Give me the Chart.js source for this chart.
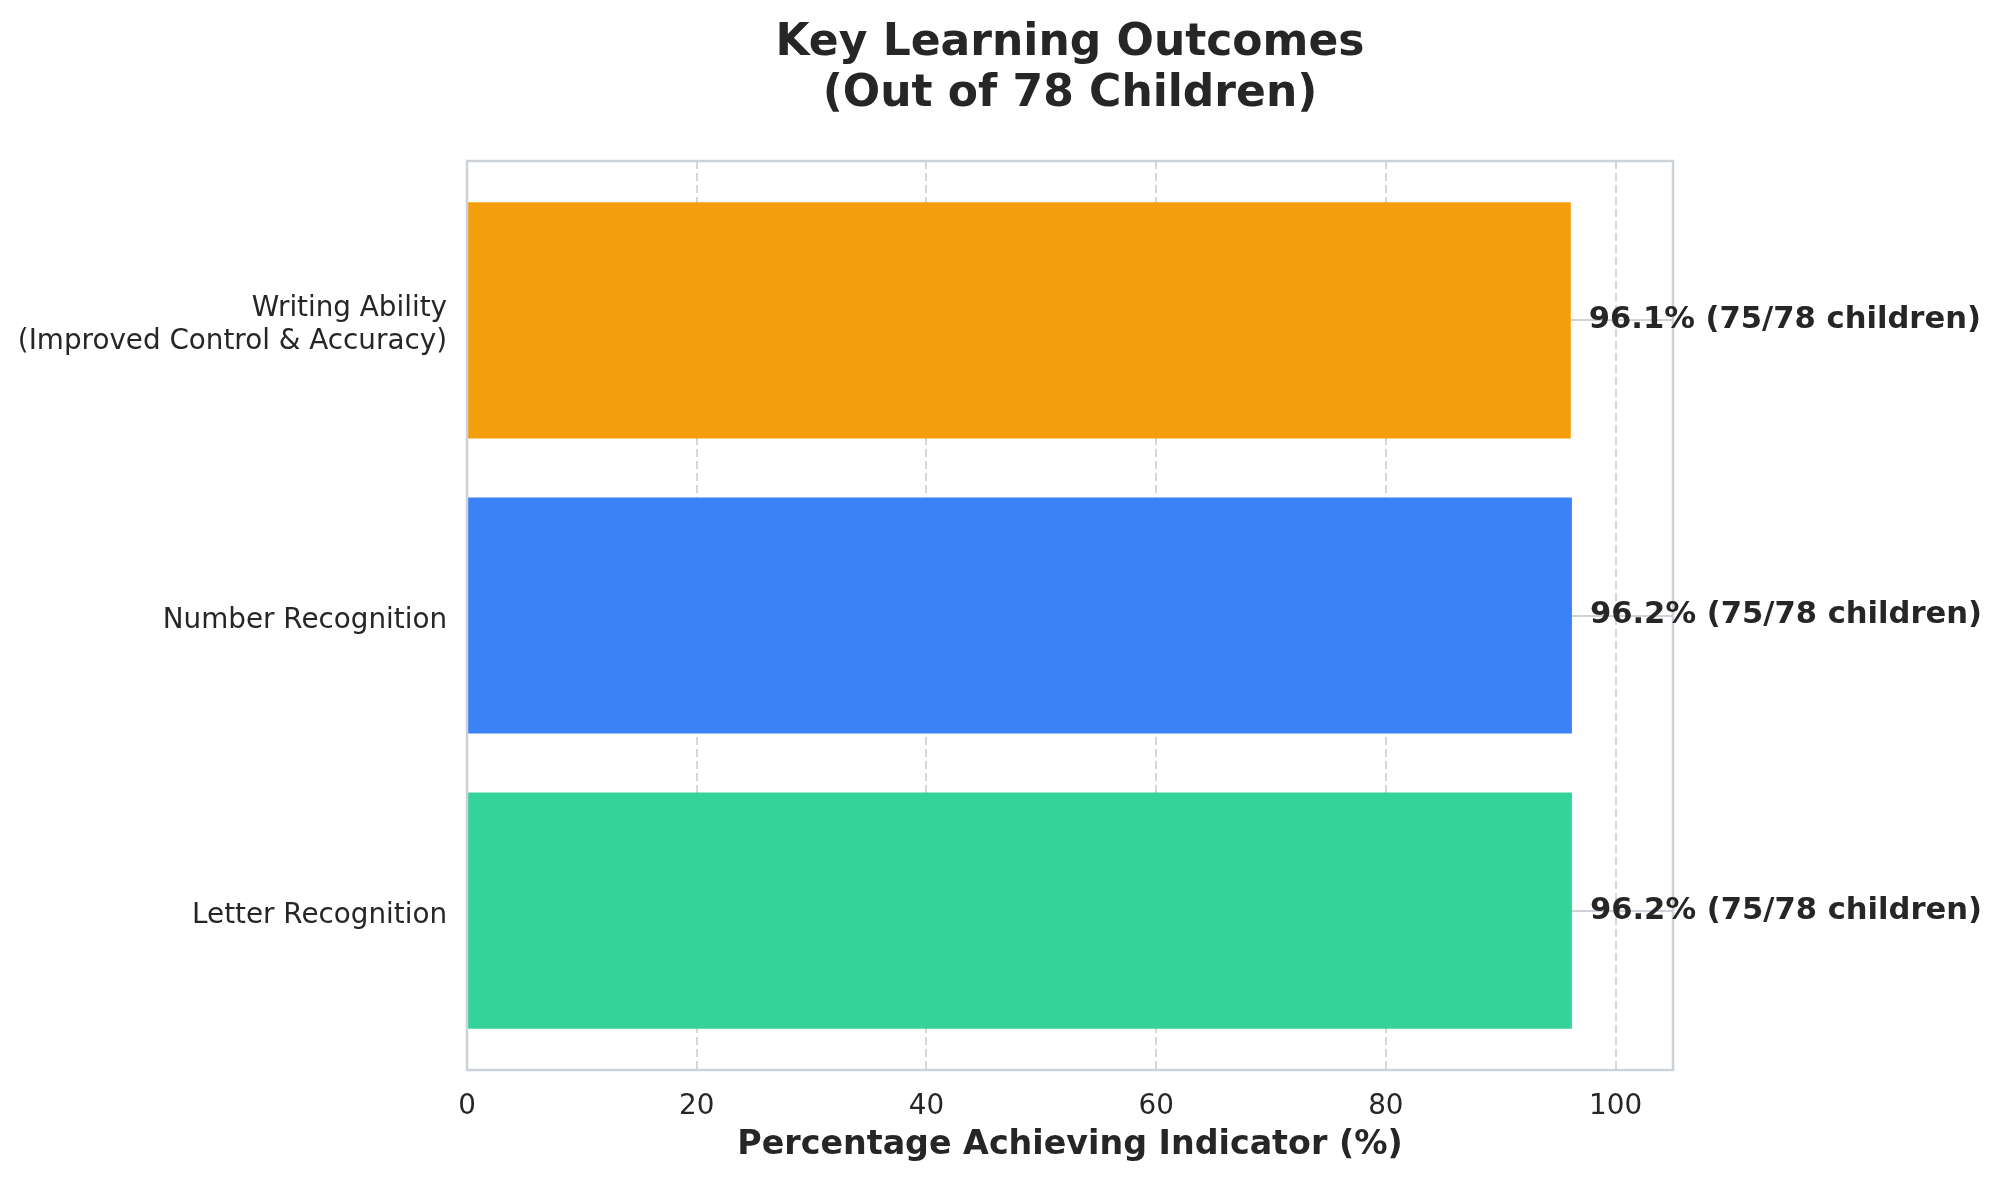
<!DOCTYPE html>
<html>
<head>
<meta charset="utf-8">
<script src="https://cdn.jsdelivr.net/npm/chart.js@4"></script>
<style>
  html, body { margin: 0; padding: 0; background: #fff; }
  canvas { display: block; }
</style>
</head>
<body>
<canvas id="chart" width="2000" height="1180"></canvas>
<script>
// outcomes, bottom to top as drawn
const outcomes = [
  "Letter Recognition",
  "Number Recognition",
  ["Writing Ability", "(Improved Control & Accuracy)"],
]
const percentages = [96.2, 96.2, 96.1]
const childCounts = [75, 75, 75]
const totalChildren = 78
const barColors = ["#34D399", "#3B82F6", "#F59E0B"]
const xTicks = [0, 20, 40, 60, 80, 100]

const titleLines = ["Key Learning Outcomes", "(Out of 78 Children)"]
const xTitle = "Percentage Achieving Indicator (%)"

const textColor = "#262626"
const spineColor = "#cdd2da"
const fontFamily = "'DejaVu Sans', sans-serif"

const points = percentages.map((p, i) => ({ x: p, y: i }))

const decorations = {
  id: "decorations",
  afterDatasetsDraw(chart) {
    const ctx = chart.ctx
    const area = chart.chartArea
    ctx.save()
    // spines all round
    ctx.strokeStyle = spineColor
    ctx.lineWidth = 2.5
    ctx.strokeRect(area.left, area.top, area.right - area.left, area.bottom - area.top)

    // value labels next to bars
    const meta = chart.getDatasetMeta(0)
    ctx.fillStyle = textColor
    ctx.font = "bold 30.6px " + fontFamily
    ctx.textAlign = "left"
    ctx.textBaseline = "middle"
    meta.data.forEach((bar, i) => {
      const label = percentages[i].toFixed(1) + "% (" + childCounts[i] + "/" + totalChildren + " children)"
      ctx.fillText(label, bar.x + 18, bar.y)
    })

    // title centred over the plot area
    ctx.font = "bold 44px " + fontFamily
    ctx.textAlign = "center"
    ctx.textBaseline = "alphabetic"
    const cx = (area.left + area.right) / 2
    ctx.fillText(titleLines[0], cx, 55)
    ctx.fillText(titleLines[1], cx, 106)
    ctx.restore()
  },
}

new Chart(document.getElementById("chart"), {
  type: "bar",
  data: {
    datasets: [
      {
        data: points,
        backgroundColor: barColors,
        borderWidth: 0,
        categoryPercentage: 1,
        barPercentage: 0.8,
      },
    ],
  },
  options: {
    indexAxis: "y",
    responsive: false,
    devicePixelRatio: 1,
    animation: false,
    layout: { padding: { top: 161, right: 327, bottom: 0, left: 0 } },
    plugins: {
      legend: { display: false },
      tooltip: { enabled: false },
    },
    scales: {
      x: {
        type: "linear",
        min: 0,
        max: 105,
        afterFit: (scale) => { scale.height = 110 },
        afterBuildTicks: (scale) => { scale.ticks = xTicks.map((v) => ({ value: v })) },
        border: { display: false, dash: [8, 4] },
        grid: {
          color: "#d6d6d6",
          lineWidth: 2,
          drawTicks: false,
        },
        ticks: {
          padding: 20,
          color: textColor,
          font: { family: fontFamily, size: 27.8 },
        },
        title: {
          display: true,
          text: xTitle,
          color: textColor,
          font: { family: fontFamily, size: 33.3, weight: "bold" },
          padding: { top: 0, bottom: 15 },
        },
      },
      y: {
        type: "linear",
        min: -0.54,
        max: 2.54,
        offset: false,
        afterFit: (scale) => { scale.width = 467 },
        afterBuildTicks: (scale) => { scale.ticks = outcomes.map((_, i) => ({ value: i })) },
        border: { display: false },
        grid: {
          color: spineColor,
          lineWidth: 2,
          drawTicks: false,
          offset: false,
        },
        ticks: {
          padding: 20,
          labelOffset: 5,
          color: textColor,
          font: { family: fontFamily, size: 27.8, lineHeight: 1.2 },
          callback: (value) => outcomes[value],
        },
      },
    },
  },
  plugins: [decorations],
})
</script>
</body>
</html>
